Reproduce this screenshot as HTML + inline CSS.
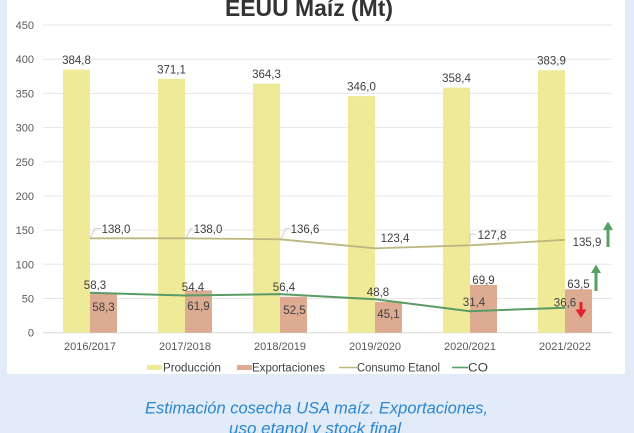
<!DOCTYPE html>
<html>
<head>
<meta charset="utf-8">
<style>
  html,body{margin:0;padding:0;background:#e2ebf8;}
  body{width:634px;height:433px;overflow:hidden;}
  svg{display:block;}
  text{font-family:"Liberation Sans",sans-serif;}
</style>
</head>
<body>
<svg width="634" height="433" viewBox="0 0 634 433" xmlns="http://www.w3.org/2000/svg">
  <rect x="0" y="0" width="634" height="433" fill="#e2ebf8"/>
  <rect x="7" y="0" width="618" height="374" fill="#ffffff"/>

  <!-- Title -->
  <text x="309" y="16" text-anchor="middle" font-size="23" font-weight="bold" fill="#333333" textLength="168" lengthAdjust="spacingAndGlyphs">EEUU Maíz (Mt)</text>

  <!-- gridlines -->
  <g stroke="#e6e6e6" stroke-width="1">
    <line x1="43" y1="25" x2="612" y2="25"/>
    <line x1="43" y1="59.2" x2="612" y2="59.2"/>
    <line x1="43" y1="93.4" x2="612" y2="93.4"/>
    <line x1="43" y1="127.6" x2="612" y2="127.6"/>
    <line x1="43" y1="161.8" x2="612" y2="161.8"/>
    <line x1="43" y1="195.9" x2="612" y2="195.9"/>
    <line x1="43" y1="230.1" x2="612" y2="230.1"/>
    <line x1="43" y1="264.3" x2="612" y2="264.3"/>
    <line x1="43" y1="298.5" x2="612" y2="298.5"/>
  </g>
  <line x1="43" y1="332.7" x2="612" y2="332.7" stroke="#d9d9d9" stroke-width="1"/>

  <!-- y labels -->
  <g font-size="11" fill="#595959" text-anchor="end">
    <text x="34" y="29">450</text>
    <text x="34" y="63.2">400</text>
    <text x="34" y="97.4">350</text>
    <text x="34" y="131.6">300</text>
    <text x="34" y="165.8">250</text>
    <text x="34" y="199.9">200</text>
    <text x="34" y="234.1">150</text>
    <text x="34" y="268.3">100</text>
    <text x="34" y="302.5">50</text>
    <text x="34" y="336.7">0</text>
  </g>

  <!-- Production bars -->
  <g fill="#eeea98">
    <rect x="63" y="69.6" width="27" height="263.1"/>
    <rect x="158" y="78.9" width="27" height="253.8"/>
    <rect x="253" y="83.6" width="27" height="249.1"/>
    <rect x="348" y="96.1" width="27" height="236.6"/>
    <rect x="443" y="87.6" width="27" height="245.1"/>
    <rect x="538" y="70.2" width="27" height="262.5"/>
  </g>
  <!-- Export bars -->
  <g fill="#dcab91">
    <rect x="90" y="292.8" width="27" height="39.9"/>
    <rect x="185" y="290.4" width="27" height="42.3"/>
    <rect x="280" y="296.8" width="27" height="35.9"/>
    <rect x="375" y="301.9" width="27" height="30.8"/>
    <rect x="470" y="284.9" width="27" height="47.8"/>
    <rect x="565" y="289.3" width="27" height="43.4"/>
  </g>

  <!-- Etanol line -->
  <polyline points="90,238.3 185,238.3 280,239.3 375,248.3 470,245.3 565,239.8" fill="none" stroke="#bdb77f" stroke-width="1.8"/>
  <!-- CO line -->
  <polyline points="90,292.8 185,295.5 280,294.1 375,299.3 470,311.2 565,307.7" fill="none" stroke="#5a9b66" stroke-width="2"/>

  <!-- leader lines -->
  <g fill="none" stroke="#bfbfbf" stroke-width="0.8">
    <path d="M90,238 L95,228.5 L101,228.5"/>
    <path d="M186,238 L191,228.5 L193,228.5"/>
    <path d="M281,239 L286,228.5 L290,228.5"/>
    <path d="M470,243 L470,234 L476,234"/>
  </g>

  <!-- data labels -->
  <g font-size="11.5" fill="#404040" text-anchor="middle">
    <!-- production -->
    <text x="76.5" y="64">384,8</text>
    <text x="171.5" y="73.4">371,1</text>
    <text x="266.5" y="78.1">364,3</text>
    <text x="361.5" y="90.6">346,0</text>
    <text x="456.5" y="82.1">358,4</text>
    <text x="551.5" y="64.7">383,9</text>
    <!-- etanol -->
    <text x="116" y="233">138,0</text>
    <text x="208" y="233">138,0</text>
    <text x="305" y="233">136,6</text>
    <text x="395" y="242">123,4</text>
    <text x="492" y="239">127,8</text>
    <text x="587" y="246">135,9</text>
    <!-- CO -->
    <text x="95" y="289">58,3</text>
    <text x="193" y="291">54,4</text>
    <text x="284" y="291">56,4</text>
    <text x="378" y="296">48,8</text>
    <text x="474" y="306">31,4</text>
    <text x="565" y="306.5">36,6</text>
    <!-- exports -->
    <text x="103.5" y="311">58,3</text>
    <text x="198.5" y="310">61,9</text>
    <text x="294.5" y="314">52,5</text>
    <text x="388.5" y="318">45,1</text>
    <text x="483.5" y="284">69,9</text>
    <text x="578.5" y="288">63,5</text>
  </g>

  <!-- arrows -->
  <g>
    <line x1="608" y1="228" x2="608" y2="247" stroke="#55a063" stroke-width="3"/>
    <polygon points="603,230 608,221.5 613,230" fill="#55a063"/>
    <line x1="596" y1="271" x2="596" y2="291" stroke="#55a063" stroke-width="3"/>
    <polygon points="591,273 596,264.5 601,273" fill="#55a063"/>
    <line x1="581" y1="302" x2="581" y2="311" stroke="#e5202e" stroke-width="3"/>
    <polygon points="575.5,309.5 581,318 586.5,309.5" fill="#e5202e"/>
  </g>

  <!-- x labels -->
  <g font-size="11" fill="#595959" text-anchor="middle">
    <text x="90" y="350">2016/2017</text>
    <text x="185" y="350">2017/2018</text>
    <text x="280" y="350">2018/2019</text>
    <text x="375" y="350">2019/2020</text>
    <text x="470" y="350">2020/2021</text>
    <text x="565" y="350">2021/2022</text>
  </g>

  <!-- legend -->
  <rect x="147" y="365" width="15" height="5" fill="#eeea98"/>
  <rect x="237" y="365" width="15" height="5" fill="#dcab91"/>
  <line x1="339" y1="367.5" x2="357" y2="367.5" stroke="#bdb77f" stroke-width="1.6"/>
  <line x1="452" y1="367.5" x2="468" y2="367.5" stroke="#5a9b66" stroke-width="1.6"/>
  <g font-size="11.5" fill="#404040">
    <text x="163" y="371.5" textLength="58" lengthAdjust="spacingAndGlyphs">Producción</text>
    <text x="252" y="371.5" textLength="73" lengthAdjust="spacingAndGlyphs">Exportaciones</text>
    <text x="357" y="371.5" textLength="83" lengthAdjust="spacingAndGlyphs">Consumo Etanol</text>
    <text x="468" y="371.5" textLength="20" lengthAdjust="spacingAndGlyphs">CO</text>
  </g>

  <!-- caption -->
  <g font-size="17" font-style="italic" fill="#2a87d0">
    <text x="145" y="413.3" textLength="343" lengthAdjust="spacingAndGlyphs">Estimación cosecha USA maíz. Exportaciones,</text>
    <text x="229" y="434" textLength="172" lengthAdjust="spacingAndGlyphs">uso etanol y stock final</text>
  </g>
</svg>
</body>
</html>
